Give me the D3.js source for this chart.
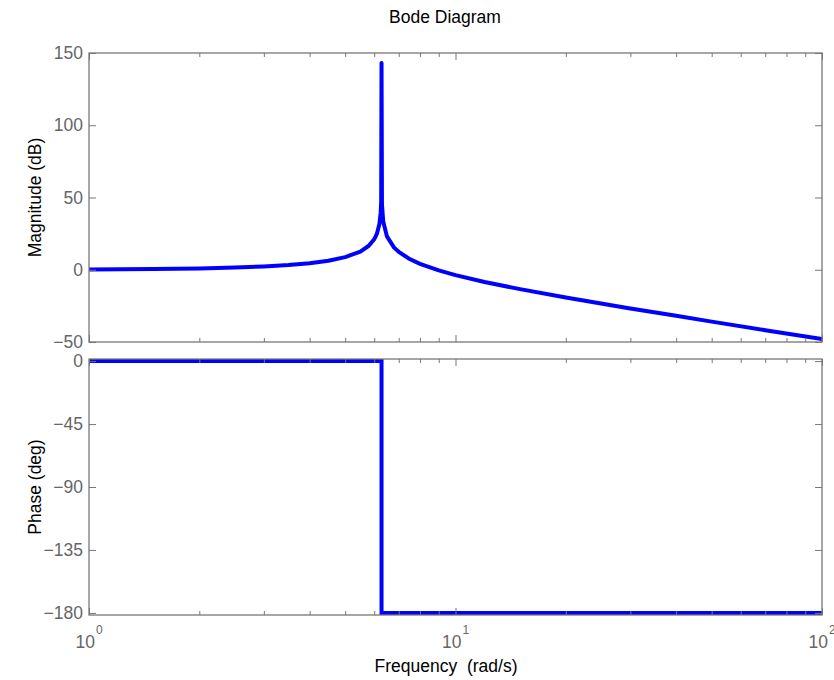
<!DOCTYPE html>
<html>
<head>
<meta charset="utf-8">
<script src="https://cdn.jsdelivr.net/npm/d3@7"></script>
<style>
  html, body { margin: 0; padding: 0; background: #fff; }
  svg { display: block; font-family: "Liberation Sans", Arial, Helvetica, sans-serif; }
</style>
</head>
<body>
<svg id="chart" width="834" height="680"></svg>
<script>
// ---- Data ----
const freq = [1, 1.5, 2, 2.5, 3, 3.5, 4, 4.5, 5, 5.5, 5.8, 6.0, 6.1, 6.2, 6.25, 6.27, 6.2832, 6.3, 6.35, 6.5, 6.8, 7, 7.5, 8, 9, 10, 12, 15, 20, 30, 40, 50, 70, 100];
const magDb = [0.22, 0.51, 0.93, 1.5, 2.25, 3.23, 4.51, 6.25, 8.71, 12.6, 16.6, 21.1, 24.8, 31.6, 39.5, 47.5, 143, 45.4, 33.4, 23.1, 15.3, 12.4, 7.4, 4.1, -0.4, -3.7, -8.5, -13.4, -19.2, -26.8, -31.9, -35.9, -41.8, -48.0];
const phaseFreq = [1, 6.2832, 6.2832, 100];
const phaseDeg = [0, 0, -180, -180];
const magTicks = [-50, 0, 50, 100, 150];
const phaseTicks = [0, -45, -90, -135, -180];
const majorFreqTicks = [1, 10, 100];
const majorFreqExp = ["0", "1", "2"];
const minorFreqTicks = [2, 3, 4, 5, 6, 7, 8, 9, 20, 30, 40, 50, 60, 70, 80, 90];
const titleText = "Bode Diagram";
const magLabel = "Magnitude (dB)";
const phaseLabel = "Phase (deg)";
const xLabel = "Frequency  (rad/s)";

// ---- Layout ----
const L = 89, R = 822;
const magT = 53, magB = 342;
const phT = 359, phB = 615;
const axisColor = "#777";
const tickTextColor = "#666";
const fontSize = 17.5;
const lineColor = "#0000ff";

const svg = d3.select("#chart");

const x = d3.scaleLog().domain([1, 100]).range([L, R]);
const yMag = d3.scaleLinear().domain([-50, 150]).range([magB, magT]);
const yPh = d3.scaleLinear().domain([-181.5, 1.5]).range([phB, phT]);

// clip paths
const defs = svg.append("defs");
defs.append("clipPath").attr("id", "clipMag").append("rect")
  .attr("x", L).attr("y", magT).attr("width", R - L).attr("height", magB - magT);
defs.append("clipPath").attr("id", "clipPh").append("rect")
  .attr("x", L).attr("y", phT).attr("width", R - L).attr("height", phB - phT);

// ---- Lines ----
const magData = freq.map((f, i) => [f, magDb[i]]);
const phData = phaseFreq.map((f, i) => [f, phaseDeg[i]]);

svg.append("path")
  .datum(magData)
  .attr("clip-path", "url(#clipMag)")
  .attr("fill", "none")
  .attr("stroke", lineColor)
  .attr("stroke-width", 4)
  .attr("stroke-linejoin", "round")
  .attr("stroke-linecap", "round")
  .attr("d", d3.line().x(d => x(d[0])).y(d => yMag(d[1])));

svg.append("path")
  .datum(phData)
  .attr("clip-path", "url(#clipPh)")
  .attr("fill", "none")
  .attr("stroke", lineColor)
  .attr("stroke-width", 4)
  .attr("stroke-linejoin", "miter")
  .attr("d", d3.line().x(d => x(d[0])).y(d => yPh(d[1])));

// ---- Axes ----
function styleAxis(g) {
  g.selectAll(".domain").remove();
  g.selectAll(".tick line").attr("stroke", axisColor).attr("stroke-width", 1);
  g.selectAll(".tick text").attr("fill", tickTextColor)
    .style("font-size", fontSize + "px")
    .style("font-family", '"Liberation Sans", Arial, sans-serif');
}

function panel(top, bottom, yScale, yTicks) {
  // left axis
  svg.append("g").attr("transform", `translate(${L},0)`)
    .call(d3.axisLeft(yScale).tickValues(yTicks).tickSize(-7).tickSizeOuter(0).tickPadding(6)
      .tickFormat(d3.format("d")))
    .call(styleAxis);
  // right axis (ticks only)
  svg.append("g").attr("transform", `translate(${R},0)`)
    .call(d3.axisRight(yScale).tickValues(yTicks).tickSize(-7).tickSizeOuter(0).tickFormat(""))
    .call(styleAxis);
  // top and bottom x ticks (major & minor)
  [[top, d3.axisTop, 1], [bottom, d3.axisBottom, -1]].forEach(([yy, ax]) => {
    svg.append("g").attr("transform", `translate(0,${yy})`)
      .call(ax(x).tickValues(minorFreqTicks).tickSize(-4).tickSizeOuter(0).tickFormat(""))
      .call(styleAxis);
    svg.append("g").attr("transform", `translate(0,${yy})`)
      .call(ax(x).tickValues(majorFreqTicks).tickSize(-7).tickSizeOuter(0).tickFormat(""))
      .call(styleAxis);
  });
  // frame
  svg.append("rect")
    .attr("x", L).attr("y", top).attr("width", R - L).attr("height", bottom - top)
    .attr("fill", "none").attr("stroke", axisColor).attr("stroke-width", 1.3);
}

panel(magT, magB, yMag, magTicks);
panel(phT, phB, yPh, phaseTicks);

// x tick labels 10^n
majorFreqTicks.forEach((v, i) => {
  const t = svg.append("text")
    .attr("x", x(v)).attr("y", 648)
    .attr("text-anchor", "middle")
    .attr("fill", tickTextColor)
    .style("font-size", fontSize + "px");
  t.append("tspan").text("10");
  t.append("tspan").attr("dx", 1).attr("dy", -14).style("font-size", "12px").text(majorFreqExp[i]);
});

// ---- Titles / labels ----
svg.append("text")
  .attr("x", 445).attr("y", 23)
  .attr("text-anchor", "middle")
  .attr("fill", "#000")
  .style("font-size", fontSize + "px")
  .text(titleText);

svg.append("text")
  .attr("transform", `translate(41,${(magT + magB) / 2}) rotate(-90)`)
  .attr("text-anchor", "middle")
  .attr("fill", "#000")
  .style("font-size", fontSize + "px")
  .text(magLabel);

svg.append("text")
  .attr("transform", `translate(41,${(phT + phB) / 2}) rotate(-90)`)
  .attr("text-anchor", "middle")
  .attr("fill", "#000")
  .style("font-size", fontSize + "px")
  .text(phaseLabel);

svg.append("text")
  .attr("x", 446).attr("y", 672)
  .attr("text-anchor", "middle")
  .attr("fill", "#000")
  .style("font-size", fontSize + "px")
  .style("white-space", "pre")
  .attr("xml:space", "preserve")
  .text(xLabel);
</script>
</body>
</html>
